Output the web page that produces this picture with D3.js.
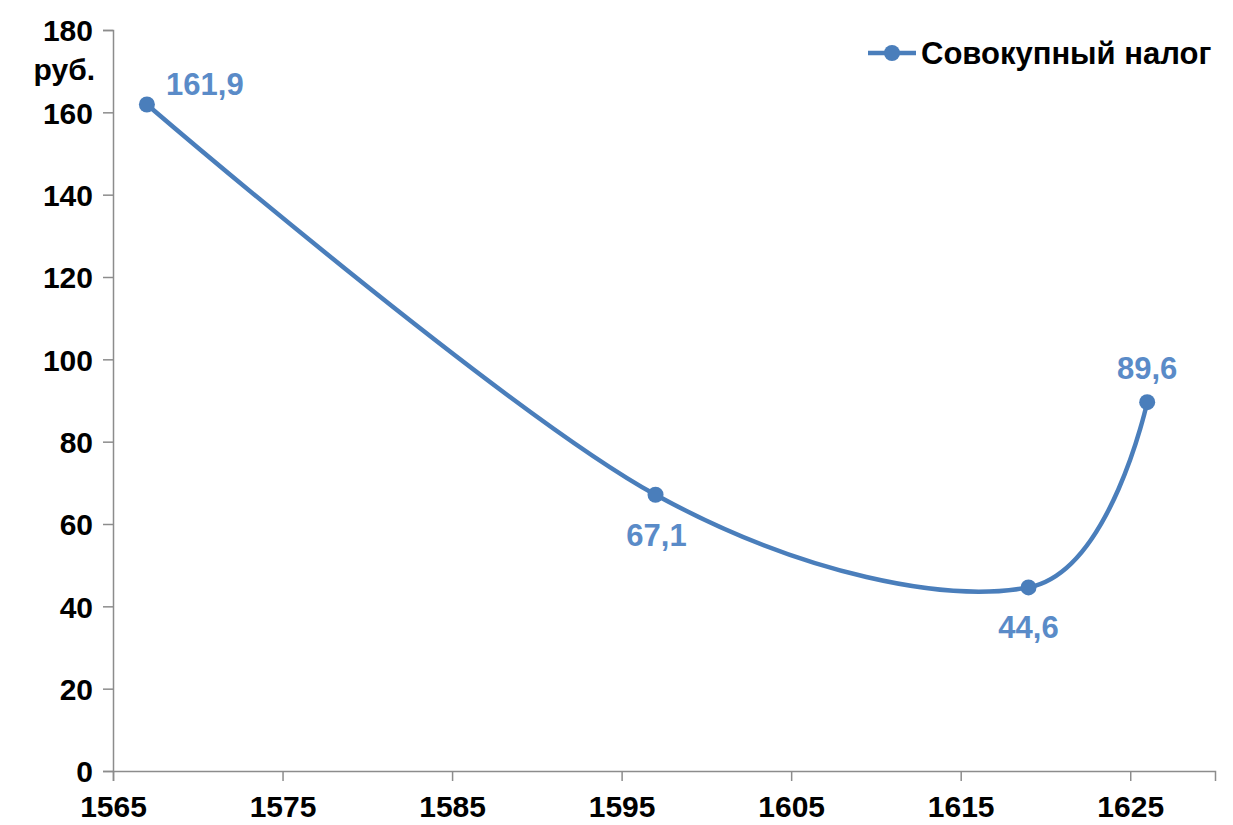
<!DOCTYPE html>
<html>
<head>
<meta charset="utf-8">
<script src="https://cdn.jsdelivr.net/npm/d3@7"></script>
<style>
  body { margin: 0; background: #fff; }
  text { font-family: "Liberation Sans", Arial, sans-serif; }
</style>
</head>
<body>
<div class="canvas"></div>
<script>
const years = [1567, 1597, 1619, 1626];
const taxValues = [161.9, 67.1, 44.6, 89.6];
const valueLabels = ["161,9", "67,1", "44,6", "89,6"];
const yTicks = [0, 20, 40, 60, 80, 100, 120, 140, 160, 180];
const xTicks = [1565, 1575, 1585, 1595, 1605, 1615, 1625];
const seriesName = "Совокупный налог";
const unitLabel = "руб.";

const width = 1233;
const height = 825;
const margin = { left: 113, right: 18, top: 30, bottom: 54 };

const lineColor = "#4a7ebb";
const labelColor = "#5a8bc8";
const axisColor = "#8c8c8c";

const svg = d3
  .select(".canvas")
  .append("svg")
  .attr("width", width)
  .attr("height", height);

const x = d3
  .scaleLinear()
  .domain([1565, 1630])
  .range([margin.left, width - margin.right]);

const y = d3
  .scaleLinear()
  .domain([0, 180])
  .range([height - margin.bottom, margin.top]);

// axes
const yAxis = svg
  .append("g")
  .attr("transform", `translate(${margin.left},0)`)
  .call(d3.axisLeft(y).tickValues(yTicks).tickSize(10).tickPadding(10));

const xAxis = svg
  .append("g")
  .attr("transform", `translate(0,${height - margin.bottom})`)
  .call(
    d3.axisBottom(x).tickValues(xTicks).tickFormat(d3.format("d")).tickSize(10).tickPadding(15)
  );

[yAxis, xAxis].forEach((axis) => {
  axis.attr("font-size", null).attr("font-family", null);
  axis.select(".domain").attr("stroke", axisColor).attr("stroke-width", 1.5);
  axis.selectAll(".tick line").attr("stroke", axisColor).attr("stroke-width", 1.5);
  axis
    .selectAll(".tick text")
    .attr("fill", "#000")
    .style("font-size", "30px")
    .style("font-weight", "bold");
});
yAxis.selectAll(".tick text").attr("dy", "0.36em");

svg
  .append("text")
  .attr("x", 95)
  .attr("y", 80)
  .attr("text-anchor", "end")
  .style("font-size", "30px")
  .style("font-weight", "bold")
  .text(unitLabel);

// line
const points = years.map((year, i) => ({ year: year, value: taxValues[i], label: valueLabels[i] }));

const line = d3
  .line()
  .x((d) => x(d.year))
  .y((d) => y(d.value))
  .curve(d3.curveCardinal.tension(0));

svg
  .append("path")
  .datum(points)
  .attr("d", line)
  .attr("fill", "none")
  .attr("stroke", lineColor)
  .attr("stroke-width", 4.5);

svg
  .selectAll("circle.point")
  .data(points)
  .enter()
  .append("circle")
  .attr("class", "point")
  .attr("cx", (d) => x(d.year))
  .attr("cy", (d) => y(d.value))
  .attr("r", 8)
  .attr("fill", lineColor);

// data labels
const labelOffsets = [
  { dx: 58, dy: -10 },
  { dx: 1, dy: 51 },
  { dx: 0, dy: 51 },
  { dx: 0, dy: -23 }
];

svg
  .selectAll("text.value")
  .data(points)
  .enter()
  .append("text")
  .attr("class", "value")
  .attr("x", (d, i) => x(d.year) + labelOffsets[i].dx)
  .attr("y", (d, i) => y(d.value) + labelOffsets[i].dy)
  .attr("text-anchor", "middle")
  .attr("fill", labelColor)
  .style("font-size", "31px")
  .style("font-weight", "bold")
  .text((d) => d.label);

// legend
const legend = svg.append("g").attr("transform", "translate(868,53)");
legend
  .append("line")
  .attr("x1", 0)
  .attr("x2", 48)
  .attr("stroke", lineColor)
  .attr("stroke-width", 4.5);
legend.append("circle").attr("cx", 24).attr("r", 8).attr("fill", lineColor);
legend
  .append("text")
  .attr("x", 53)
  .attr("y", 11)
  .style("font-size", "31px")
  .style("font-weight", "bold")
  .text(seriesName);
</script>
</body>
</html>
